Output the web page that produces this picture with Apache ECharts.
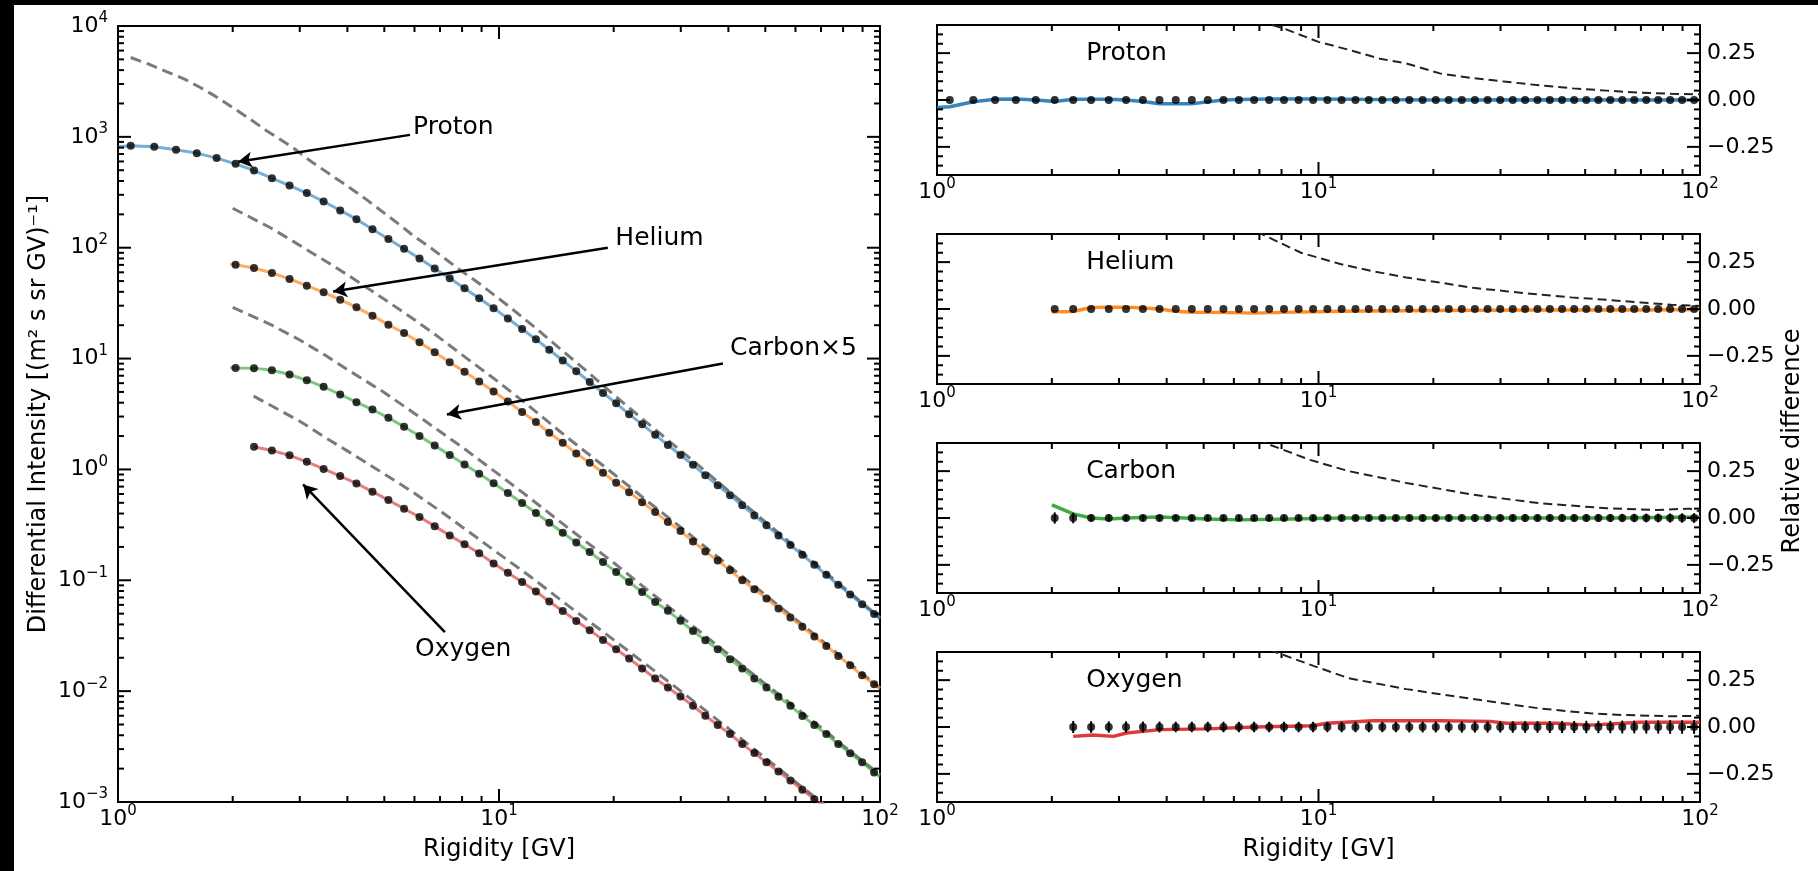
<!DOCTYPE html>
<html>
<head>
<meta charset="utf-8">
<title>Rigidity spectra</title>
<script src="https://cdn.jsdelivr.net/npm/echarts@6/dist/echarts.min.js"></script>
<style>
    html, body { margin: 0; padding: 0; background: #000; }
    #wrap { position: relative; width: 1818px; height: 871px; background: #000; }
    #main { position: absolute; left: 14px; top: 5px; width: 1804px; height: 866px; background: #fff; }
</style>
</head>
<body>
<div id="wrap"><div id="main"></div></div>
<script>
// 刚度分箱中心 (GV)
var rigidity = [1.08, 1.245, 1.42, 1.61, 1.815, 2.035, 2.275, 2.535, 2.82, 3.13, 3.465, 3.83, 4.225, 4.655,
    5.125, 5.635, 6.185, 6.78, 7.425, 8.12, 8.87, 9.68, 10.55, 11.5, 12.5, 13.55, 14.7, 15.95, 17.3, 18.75,
    20.3, 21.95, 23.75, 25.7, 27.75, 29.95, 32.3, 34.8, 37.5, 40.4, 43.5, 46.8, 50.35, 54.15, 58.2, 62.55,
    67.25, 72.3, 77.7, 83.5, 89.75, 96.5];

// 左图: 测量通量 (质子从 rigidity[0] 开始, He/C 从 rigidity[5], O 从 rigidity[6])
var protonFlux = [830, 813, 764, 713, 643, 571, 497, 424, 364, 311, 261, 217, 181, 147, 120, 98, 80, 65, 53,
    43, 35, 28.5, 23, 18.5, 14.9, 12.0, 9.6, 7.7, 6.15, 4.9, 3.95, 3.15, 2.55, 2.05, 1.66, 1.35, 1.1, 0.885,
    0.72, 0.585, 0.475, 0.385, 0.313, 0.254, 0.208, 0.17, 0.138, 0.112, 0.091, 0.0745, 0.0608, 0.0497];
var heliumFlux = [70.3, 65.6, 59.2, 52.2, 45.5, 39.6, 34.0, 29.0, 24.4, 20.2, 17.0, 14.0, 11.4, 9.27, 7.6, 6.2,
    5.05, 4.1, 3.3, 2.68, 2.14, 1.74, 1.39, 1.15, 0.933, 0.758, 0.624, 0.507, 0.412, 0.335, 0.278, 0.224,
    0.182, 0.151, 0.123, 0.100, 0.083, 0.0684, 0.0556, 0.0461, 0.038, 0.0311, 0.0256, 0.0208, 0.0171, 0.0139, 0.01156];
var carbonFlux5 = [8.24, 8.2, 7.85, 7.18, 6.38, 5.56, 4.74, 4.04, 3.47, 2.92, 2.43, 2.0, 1.64, 1.35, 1.11, 0.915,
    0.75, 0.612, 0.498, 0.405, 0.33, 0.268, 0.219, 0.180, 0.146, 0.119, 0.0966, 0.0785, 0.0638, 0.0530, 0.0431,
    0.0349, 0.0288, 0.0239, 0.0194, 0.0160, 0.0130, 0.0108, 0.00889, 0.00738, 0.00598, 0.00494, 0.0041, 0.00333,
    0.00275, 0.00228, 0.00185];
var oxygenFlux = [1.60, 1.48, 1.34, 1.17, 1.01, 0.871, 0.748, 0.630, 0.529, 0.442, 0.372, 0.308, 0.254, 0.211,
    0.175, 0.142, 0.117, 0.0966, 0.0791, 0.0643, 0.0529, 0.0430, 0.0355, 0.0290, 0.0239, 0.0197, 0.0160, 0.0130,
    0.0108, 0.00895, 0.00738, 0.0060, 0.00494, 0.0041, 0.00333, 0.00276, 0.00228, 0.00188, 0.00156, 0.00129,
    0.00106, 0.00087, 0.00071, 0.00058, 0.00047, 0.00038];

// 模型曲线两端 [起点, 终点]
var protonModelEdge = [[1.0, 815], [100, 0.0448]];
var heliumModelEdge = [[1.97, 71], [100, 0.0105]];
var carbonModelEdge = [[1.97, 8.3], [100, 0.00168]];
var oxygenModelEdge = [[2.27, 1.6], [100, 0.00033]];

// 灰色虚线 (未调制谱)
var protonLIS = [[1.08, 5200], [1.2, 4550], [1.34, 3870], [1.5, 3300], [1.64, 2800], [1.8, 2330], [2.01, 1815],
    [2.2, 1480], [2.46, 1130], [2.88, 800], [3.2, 605], [3.67, 439], [4.0, 360], [4.5, 270], [5.0, 205],
    [5.5, 160], [6.0, 126], [6.72, 96], [7.9, 63], [8.87, 47.6], [10.55, 30.1], [12.5, 18.8], [14.7, 11.7],
    [17.3, 7.3], [20.3, 4.52], [23.75, 2.87], [27.75, 1.84], [32.3, 1.2], [37.5, 0.774], [43.5, 0.504],
    [50.35, 0.330], [58.2, 0.217], [67.25, 0.1435], [77.7, 0.0942], [89.75, 0.0627], [100, 0.0458]];
var heliumLIS = [[2.0, 227], [2.5, 153], [3.0, 105], [3.5, 76], [4.0, 57], [5.0, 34.3], [6.0, 22.4], [7.0, 15.3],
    [8.0, 10.8], [10, 6.1], [12, 3.72], [15, 1.98], [20, 0.91], [25, 0.49], [30, 0.301], [40, 0.136],
    [50, 0.074], [60, 0.0445], [70, 0.0291], [80, 0.0198], [100, 0.0107]];
var carbonLIS = [[2.0, 28.9], [2.5, 20.5], [3.0, 14.7], [3.5, 10.7], [4.0, 7.96], [5.0, 4.94], [6.0, 3.2],
    [7.0, 2.2], [8.0, 1.59], [10, 0.897], [12, 0.558], [15, 0.306], [20, 0.144], [25, 0.0776], [30, 0.0473],
    [40, 0.0215], [50, 0.0116], [60, 0.00714], [70, 0.0047], [80, 0.00323], [100, 0.00176]];
var oxygenLIS = [[2.27, 4.58], [2.5, 3.83], [3.0, 2.72], [3.5, 1.94], [4.0, 1.47], [5.0, 0.91], [6.0, 0.61],
    [7.0, 0.423], [8.0, 0.303], [10, 0.173], [12, 0.110], [15, 0.061], [20, 0.029], [25, 0.0162], [30, 0.0100],
    [40, 0.00461], [50, 0.00249], [60, 0.00152], [70, 0.001], [80, 0.00069]];

// 右图: 相对差
var protonModelRel = [[1.0, -0.04], [1.08, -0.036], [1.245, -0.009], [1.42, 0.004], [1.61, 0.005], [1.815, 0.0],
    [2.035, -0.008], [2.275, 0.004], [2.535, 0.004], [2.82, 0.004], [3.13, 0.0], [3.465, -0.008], [3.83, -0.02],
    [4.225, -0.02], [4.655, -0.02], [5.125, -0.01], [5.635, 0.0], [6.185, 0.003], [7.425, 0.005], [10, 0.005],
    [15, 0.002], [20, 0.0], [40, 0.001], [70, 0.0], [100, 0.0]];
var heliumModelRel = [[2.0, -0.015], [2.275, -0.013], [2.535, 0.008], [2.82, 0.01], [3.13, 0.01], [3.465, 0.005],
    [3.83, 0.0], [4.225, -0.012], [4.655, -0.017], [5.5, -0.018], [6.8, -0.022], [8, -0.018], [11.5, -0.012],
    [20, -0.008], [40, -0.005], [70, -0.005], [100, -0.003]];
var carbonModelRel = [[2.0, 0.07], [2.275, 0.022], [2.535, 0.0], [2.82, -0.005], [3.13, 0.0], [3.83, 0.005],
    [5.125, -0.005], [6.185, -0.01], [8.5, -0.005], [11.5, 0.0], [30, 0.0], [60, 0.0], [100, 0.005]];
var oxygenModelRel = [[2.275, -0.05], [2.56, -0.043], [2.9, -0.05], [3.14, -0.032], [3.84, -0.014], [5.13, -0.01],
    [6.78, 0.0], [9.7, 0.007], [10.5, 0.02], [13.9, 0.033], [20.8, 0.033], [28.2, 0.03], [31.1, 0.02], [42, 0.02],
    [51.5, 0.01], [69.6, 0.025], [100, 0.025]];

var protonLISRel = [[6.0, 0.49], [7.0, 0.42], [8.07, 0.383], [10, 0.31], [12.1, 0.266], [14.5, 0.22], [17, 0.195],
    [20.8, 0.142], [25, 0.118], [31.1, 0.097], [38, 0.078], [46.5, 0.062], [57, 0.05], [69.6, 0.039], [84, 0.033],
    [100, 0.030]];
var heliumLISRel = [[6.0, 0.5], [7.16, 0.396], [9, 0.3], [11.4, 0.24], [14, 0.2], [17, 0.168], [21, 0.14],
    [25.4, 0.113], [31, 0.095], [38, 0.077], [46, 0.062], [56.9, 0.049], [70, 0.035], [85, 0.022], [100, 0.016]];
var carbonLISRel = [[6.0, 0.5], [7.38, 0.394], [9.5, 0.31], [12, 0.25], [17, 0.187], [25.4, 0.124], [38, 0.079],
    [56.9, 0.052], [77, 0.043], [94, 0.05], [100, 0.035]];
var oxygenLISRel = [[6.5, 0.5], [7.7, 0.4], [9.7, 0.326], [12, 0.26], [17, 0.202], [25.4, 0.149], [38, 0.099],
    [51.5, 0.073], [63, 0.064], [85, 0.057], [100, 0.06]];

// 误差棒 (碳, 氧)
var carbonErr = [0.030, 0.028, 0.018, 0.018, 0.017, 0.017, 0.017, 0.016, 0.016, 0.016,
    0.016, 0.016, 0.016, 0.016, 0.016, 0.016, 0.016, 0.016, 0.016, 0.016,
    0.016, 0.016, 0.016, 0.017, 0.017, 0.017, 0.017, 0.017, 0.018, 0.018,
    0.018, 0.018, 0.019, 0.019, 0.019, 0.020, 0.020, 0.020, 0.021, 0.021,
    0.022, 0.022, 0.023, 0.023, 0.024, 0.025, 0.026];
var oxygenErr = [0.032, 0.031, 0.030, 0.030, 0.029, 0.029, 0.028, 0.028, 0.028, 0.028,
    0.028, 0.028, 0.028, 0.028, 0.028, 0.028, 0.028, 0.028, 0.028, 0.028,
    0.028, 0.028, 0.029, 0.029, 0.029, 0.029, 0.030, 0.030, 0.030, 0.030,
    0.031, 0.031, 0.031, 0.032, 0.032, 0.032, 0.033, 0.033, 0.033, 0.034,
    0.034, 0.035, 0.035, 0.036, 0.036, 0.037];

// 刻度
var xMajor = [1, 10, 100];
var xMinor = [2, 3, 4, 5, 6, 7, 8, 9, 20, 30, 40, 50, 60, 70, 80, 90];
var yLogMajor = [0.001, 0.01, 0.1, 1, 10, 100, 1000, 10000];
var minorMult = [2, 3, 4, 5, 6, 7, 8, 9];
var relMajor = [-0.25, 0, 0.25];
var relMinor = [-0.35, -0.3, -0.2, -0.15, -0.1, -0.05, 0.05, 0.1, 0.15, 0.2, 0.3, 0.35];

var yLogMinor = [];
for (var d = 0; d < yLogMajor.length - 1; d++) {
    for (var m = 0; m < minorMult.length; m++) {
        yLogMinor.push(yLogMajor[d] * minorMult[m]);
    }
}

var colors = ['#1f77b4', '#ff7f0e', '#2ca02c', '#d62728'];
var lightColors = ['rgba(31,119,180,0.6)', 'rgba(255,127,14,0.65)', 'rgba(44,160,44,0.6)', 'rgba(214,39,40,0.6)'];
var font = 'DejaVu Sans';

function pairs(xs, ys) {
    var out = [];
    for (var i = 0; i < ys.length; i++) {
        out.push([xs[i], ys[i]]);
    }
    return out;
}

function withEdges(edge, pts) {
    return [edge[0]].concat(pts).concat([edge[1]]);
}

var richPow = {
    b: {fontSize: 22, lineHeight: 30, fontFamily: font, color: '#000'},
    s: {fontSize: 15, lineHeight: 15, fontFamily: font, color: '#000', verticalAlign: 'top'}
};

function powLabel(v) {
    var e = Math.round(Math.log(v) / Math.LN10);
    return '{b|10}{s|' + (e < 0 ? '\u2212' + (-e) : e) + '}';
}

function relLabel(v) {
    var k = Math.round(v / 0.25);
    if (Math.abs(v - k * 0.25) > 1e-6 || Math.abs(v) > 0.3) return '';
    return (v < 0 ? '\u2212' : '') + Math.abs(v).toFixed(2);
}

var axisLineStyle = {show: true, onZero: false, lineStyle: {color: '#000', width: 2}};
var nameStyle = {fontSize: 24, fontFamily: font, color: '#000'};

function logXAxis(gi, pos, showLabel, name) {
    return {
        type: 'log', logBase: 10, gridIndex: gi, position: pos, min: 1, max: 100,
        axisLine: axisLineStyle, axisTick: {show: false}, splitLine: {show: false},
        axisLabel: {show: showLabel, formatter: powLabel, rich: richPow, margin: 2},
        name: name || '', nameLocation: 'middle', nameGap: 36, nameTextStyle: nameStyle
    };
}

var grids = [
    {left: 104, top: 21, width: 762, height: 776},
    {left: 923, top: 20, width: 763, height: 150},
    {left: 923, top: 229, width: 763, height: 150},
    {left: 923, top: 438, width: 763, height: 150},
    {left: 923, top: 647, width: 763, height: 150}
];
grids.forEach(function (g) {
    g.containLabel = false;
    g.outerBoundsMode = 'none';
});

var xAxes = [], yAxes = [];
// 左图
xAxes.push(logXAxis(0, 'bottom', true, 'Rigidity [GV]'));
xAxes.push(logXAxis(0, 'top', false));
yAxes.push({
    type: 'log', logBase: 10, gridIndex: 0, position: 'left', min: 0.001, max: 10000,
    axisLine: axisLineStyle, axisTick: {show: false}, splitLine: {show: false},
    axisLabel: {formatter: powLabel, rich: richPow, margin: 10},
    name: 'Differential Intensity [(m\u00b2 s sr GV)\u207b\u00b9]', nameLocation: 'middle', nameGap: 67,
    nameTextStyle: nameStyle
});
yAxes.push({
    type: 'log', logBase: 10, gridIndex: 0, position: 'right', min: 0.001, max: 10000,
    axisLine: axisLineStyle, axisTick: {show: false}, splitLine: {show: false}, axisLabel: {show: false}
});
// 右图
for (var gi = 1; gi <= 4; gi++) {
    xAxes.push(logXAxis(gi, 'bottom', true, gi === 4 ? 'Rigidity [GV]' : ''));
    xAxes.push(logXAxis(gi, 'top', false));
    yAxes.push({
        type: 'value', gridIndex: gi, position: 'right', min: -0.4, max: 0.4, interval: 0.05,
        axisLine: axisLineStyle, axisTick: {show: false}, splitLine: {show: false},
        axisLabel: {formatter: relLabel, fontSize: 22, fontFamily: font, color: '#000', margin: 7}
    });
    yAxes.push({
        type: 'value', gridIndex: gi, position: 'left', min: -0.4, max: 0.4, interval: 0.05,
        axisLine: axisLineStyle, axisTick: {show: false}, splitLine: {show: false}, axisLabel: {show: false}
    });
}

// 四边的内向刻度
function tickSeries(gi, xRef, yRef, yMaj, yMin) {
    return {
        type: 'custom', xAxisIndex: gi * 2, yAxisIndex: gi * 2, silent: true, z: 10, clip: false,
        data: [[xRef, yRef]],
        renderItem: function (params, api) {
            var cs = params.coordSys, kids = [];
            var left = cs.x, right = cs.x + cs.width, top = cs.y, bottom = cs.y + cs.height;
            function seg(a, b, c, e) {
                kids.push({type: 'line', shape: {x1: a, y1: b, x2: c, y2: e},
                    style: {stroke: '#000', lineWidth: 2}});
            }
            function xt(list, len) {
                list.forEach(function (v) {
                    var px = api.coord([v, yRef])[0];
                    seg(px, bottom, px, bottom - len);
                    seg(px, top, px, top + len);
                });
            }
            function yt(list, len) {
                list.forEach(function (v) {
                    var py = api.coord([xRef, v])[1];
                    seg(left, py, left + len, py);
                    seg(right, py, right - len, py);
                });
            }
            xt(xMajor, 13);
            xt(xMinor, 6);
            yt(yMaj, 13);
            yt(yMin, 6);
            return {type: 'group', children: kids};
        }
    };
}

var series = [];
var left = [
    {flux: protonFlux, start: 0, edge: protonModelEdge, lis: protonLIS},
    {flux: heliumFlux, start: 5, edge: heliumModelEdge, lis: heliumLIS},
    {flux: carbonFlux5, start: 5, edge: carbonModelEdge, lis: carbonLIS},
    {flux: oxygenFlux, start: 6, edge: oxygenModelEdge, lis: oxygenLIS}
];

left.forEach(function (sp, i) {
    var pts = pairs(rigidity.slice(sp.start), sp.flux);
    series.push({
        type: 'line', xAxisIndex: 0, yAxisIndex: 0, data: sp.lis, showSymbol: false, z: 2,
        lineStyle: {color: '#7a7a7a', width: 3, type: [11, 6]}
    });
    series.push({
        type: 'line', xAxisIndex: 0, yAxisIndex: 0, data: withEdges(sp.edge, pts), showSymbol: false, z: 3,
        lineStyle: {color: lightColors[i], width: 3}
    });
    series.push({
        type: 'scatter', xAxisIndex: 0, yAxisIndex: 0, data: pts, symbolSize: 8, z: 4,
        itemStyle: {color: '#000'}
    });
});

// 左图注释: 箭头 + 文字
var arrowLines = [
    [[5.84, 1042], [2.065, 596]],
    [[19.3, 100], [3.67, 40.2]],
    [[38.7, 9.02], [7.30, 3.13]],
    [[7.21, 0.034], [3.06, 0.733]]
];
var arrowTexts = [
    {name: 'Proton', coord: [5.95, 1205]},
    {name: 'Helium', coord: [20.2, 120.5]},
    {name: 'Carbon\u00d75', coord: [40.4, 12.3]},
    {name: 'Oxygen', coord: [6.02, 0.0239]}
];
series.push({
    type: 'scatter', xAxisIndex: 0, yAxisIndex: 0, data: [], z: 6, silent: true,
    markLine: {
        silent: true, symbol: ['none', 'arrow'], symbolSize: [12, 14], animation: false,
        lineStyle: {color: '#000', width: 2.5, type: 'solid'}, label: {show: false},
        data: arrowLines.map(function (a) { return [{coord: a[0]}, {coord: a[1]}]; })
    },
    markPoint: {
        silent: true, symbol: 'circle', symbolSize: 0, animation: false,
        itemStyle: {color: 'transparent'},
        label: {show: true, position: 'right', distance: 0, formatter: '{b}', fontSize: 25, fontFamily: font, color: '#000'},
        data: arrowTexts
    }
});
series.push(tickSeries(0, 1, 1, yLogMajor, yLogMinor));

// 右图
var right = [
    {name: 'Proton', start: 0, n: protonFlux.length, model: protonModelRel, lis: protonLISRel, err: null},
    {name: 'Helium', start: 5, n: heliumFlux.length, model: heliumModelRel, lis: heliumLISRel, err: null},
    {name: 'Carbon', start: 5, n: carbonFlux5.length, model: carbonModelRel, lis: carbonLISRel, err: carbonErr},
    {name: 'Oxygen', start: 6, n: oxygenFlux.length, model: oxygenModelRel, lis: oxygenLISRel, err: oxygenErr}
];

right.forEach(function (sp, i) {
    var ax = (i + 1) * 2;
    var xs = rigidity.slice(sp.start, sp.start + sp.n);
    series.push({
        type: 'line', xAxisIndex: ax, yAxisIndex: ax, data: sp.model, showSymbol: false, z: 3,
        lineStyle: {color: colors[i], width: 3.5, opacity: 0.9}
    });
    series.push({
        type: 'line', xAxisIndex: ax, yAxisIndex: ax, data: sp.lis, showSymbol: false, z: 4,
        lineStyle: {color: '#222', width: 2, type: [9, 5]}
    });
    if (sp.err) {
        series.push({
            type: 'custom', xAxisIndex: ax, yAxisIndex: ax, z: 5, silent: true,
            data: pairs(xs, sp.err),
            encode: {x: 0, y: 1},
            renderItem: function (params, api) {
                var x = api.value(0), e = api.value(1);
                var p1 = api.coord([x, -e]), p2 = api.coord([x, e]);
                return {type: 'line', shape: {x1: p1[0], y1: p1[1], x2: p2[0], y2: p2[1]},
                    style: {stroke: '#000', lineWidth: 2}};
            }
        });
    }
    series.push({
        type: 'scatter', xAxisIndex: ax, yAxisIndex: ax, z: 6, symbolSize: 8,
        data: xs.map(function (x) { return [x, 0]; }),
        itemStyle: {color: '#000'},
        markPoint: {
            silent: true, symbol: 'circle', symbolSize: 0, animation: false,
            itemStyle: {color: 'transparent'},
            label: {show: true, position: 'right', distance: 0, formatter: '{b}', fontSize: 25, fontFamily: font, color: '#000'},
            data: [{name: sp.name, coord: [2.46, 0.25]}]
        }
    });
    series.push(tickSeries(i + 1, 1, 0, relMajor, relMinor));
});

var chart = echarts.init(document.getElementById('main'));
chart.setOption({
    animation: false,
    backgroundColor: '#fff',
    textStyle: {fontFamily: font},
    grid: grids,
    xAxis: xAxes,
    yAxis: yAxes,
    series: series,
    graphic: [{
        type: 'text', x: 1779, y: 436, rotation: Math.PI / 2, silent: true,
        style: {text: 'Relative difference', fontSize: 24, fontFamily: font, fill: '#000',
            align: 'center', verticalAlign: 'middle'}
    }]
});
</script>
</body>
</html>
